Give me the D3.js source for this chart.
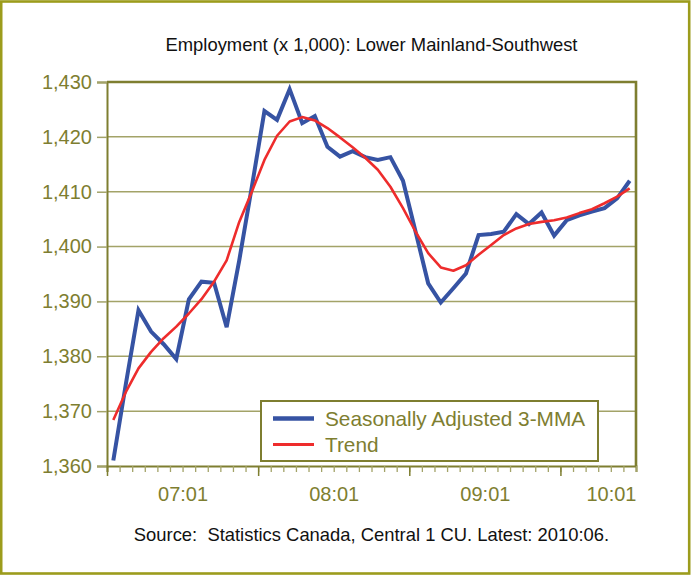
<!DOCTYPE html>
<html>
<head>
<meta charset="utf-8">
<script src="https://cdn.jsdelivr.net/npm/d3@7"></script>
<style>
  body { margin: 0; background: #fff; }
  text { font-family: "Liberation Sans", Arial, sans-serif; }
</style>
</head>
<body>
<div id="display"></div>
<script>
// monthly categories, 2006:07 .. 2009:12
var months = [];
for (var yr = 2006; yr <= 2009; yr++) {
  for (var mo = 1; mo <= 12; mo++) {
    if (yr == 2006 && mo < 7) continue;
    months.push(yr + ":" + (mo < 10 ? "0" + mo : mo));
  }
}

var seasAdj = [1361.0, 1375.0, 1388.4, 1384.5, 1382.2, 1379.5, 1390.4, 1393.6, 1393.4, 1385.3,
  1397.5, 1410.9, 1424.7, 1423.1, 1428.7, 1422.5, 1423.8, 1418.2, 1416.4, 1417.4,
  1416.3, 1415.8, 1416.3, 1412.0, 1402.7, 1393.3, 1389.8, 1392.4, 1395.1, 1402.1,
  1402.3, 1402.7, 1405.9, 1404.1, 1406.2, 1402.0, 1404.8, 1405.7, 1406.4, 1407.0,
  1408.8, 1412.0];

var trend = [1368.4, 1373.5, 1377.8, 1380.8, 1383.3, 1385.4, 1387.8, 1390.4, 1393.6, 1397.5,
  1404.5, 1410.0, 1415.8, 1420.2, 1422.8, 1423.6, 1423.0, 1421.6, 1419.9, 1418.1,
  1416.2, 1414.0, 1410.9, 1407.0, 1402.7, 1398.8, 1396.2, 1395.6, 1396.6, 1398.5,
  1400.3, 1402.1, 1403.3, 1404.1, 1404.5, 1404.8, 1405.3, 1406.1, 1406.8, 1407.9,
  1409.1, 1410.6];

var yTicks = [1360, 1370, 1380, 1390, 1400, 1410, 1420, 1430];
var xLabelMonths = ["2007:01", "2008:01", "2009:01", "2010:01"];
var xLabels = ["07:01", "08:01", "09:01", "10:01"];
var seriesNames = ["Seasonally Adjusted 3-MMA", "Trend"];

var olive = "#7e7e30", grid = "#a3a368", frame = "#9c9c1c";
var blue = "#3653a3", red = "#ee2c2c";

var W = 691, H = 575;
var margin = {top: 82, right: 55, bottom: 109, left: 107},
    width = W - margin.left - margin.right,
    height = H - margin.top - margin.bottom;

var svg = d3.select("#display").append("svg")
  .attr("width", W).attr("height", H);

// outer frame
svg.append("rect")
  .attr("x", 1.2).attr("y", 1.5).attr("width", W - 3).attr("height", H - 3)
  .attr("fill", "#fff").attr("stroke", frame).attr("stroke-width", 2.6);

var g = svg.append("g")
  .attr("transform", "translate(" + margin.left + "," + margin.top + ")");

// category boundaries on a linear scale, points at band centers
var x = d3.scaleLinear().domain([0, months.length]).range([0, width]);
var xc = function(i) { return x(i + 0.5); };
var y = d3.scaleLinear().domain([1360, 1430]).range([height, 0]);

// month position of a "yyyy:mm" string, counted from the first category
function monthIdx(s) {
  var p = s.split(":"), p0 = months[0].split(":");
  return (+p[0] - +p0[0]) * 12 + (+p[1] - +p0[1]);
}

// gridlines
g.append("g").selectAll("line")
  .data(yTicks.filter(function(d) { return d > 1360 && d < 1430; }))
  .enter().append("line")
    .attr("x1", 0).attr("x2", width)
    .attr("y1", function(d) { return y(d); })
    .attr("y2", function(d) { return y(d); })
    .attr("stroke", grid).attr("stroke-width", 1.5);

// plot box top + right
g.append("path")
  .attr("d", "M0,0H" + width + "V" + height)
  .attr("fill", "none").attr("stroke", olive).attr("stroke-width", 2.6);

// y axis
var yAx = g.append("g")
  .call(d3.axisLeft(y).tickValues(yTicks).tickSize(10).tickPadding(5)
    .tickFormat(d3.format(",")));
yAx.select(".domain").attr("stroke", olive).attr("stroke-width", 2);
yAx.selectAll(".tick line").attr("stroke", grid).attr("stroke-width", 1.5);
yAx.selectAll("text").attr("fill", olive).style("font-size", "20px")
  .style("font-family", "'Liberation Sans', Arial, sans-serif");

// x axis: minor ticks every month, major every 12
var xAx = g.append("g").attr("transform", "translate(0," + height + ")")
  .call(d3.axisBottom(x).tickValues(d3.range(months.length + 1)).tickSize(6)
    .tickFormat(""));
xAx.select(".domain").attr("stroke", olive).attr("stroke-width", 2);
xAx.selectAll(".tick line").attr("stroke", grid).attr("stroke-width", 1.3);

var xMaj = g.append("g").attr("transform", "translate(0," + height + ")")
  .call(d3.axisBottom(x).tickValues(d3.range(0, months.length, 12)).tickSize(10)
    .tickFormat(""));
xMaj.select(".domain").remove();
xMaj.selectAll(".tick line").attr("stroke", olive).attr("stroke-width", 1.5);

var xLab = g.append("g").attr("transform", "translate(0," + height + ")")
  .call(d3.axisBottom(x).tickValues(xLabelMonths.map(monthIdx)).tickSize(0)
    .tickPadding(21).tickFormat(function(d, i) { return xLabels[i]; }));
xLab.select(".domain").remove();
xLab.selectAll("text").attr("fill", olive).style("font-size", "20px")
  .style("font-family", "'Liberation Sans', Arial, sans-serif");
// keep the last label inside the plot width
xLab.selectAll(".tick").each(function(d) {
  var t = d3.select(this).select("text"), b = t.node().getBBox();
  var over = x(d) + b.x + b.width - width;
  if (over > 0) t.attr("dx", -over);
});

// lines
var line = function(vals) {
  return d3.line().x(function(d, i) { return xc(i); }).y(function(d) { return y(d); })(vals);
};
g.append("path").attr("d", line(seasAdj))
  .attr("fill", "none").attr("stroke", blue).attr("stroke-width", 4)
  .attr("stroke-linejoin", "miter");
g.append("path").attr("d", line(trend))
  .attr("fill", "none").attr("stroke", red).attr("stroke-width", 2.6)
  .attr("stroke-linejoin", "round");

// legend
var lg = svg.append("g").attr("transform", "translate(261,401)");
lg.append("rect").attr("width", 337).attr("height", 60)
  .attr("fill", "#fff").attr("stroke", olive).attr("stroke-width", 2);
var cols = [blue, red], widths = [4.5, 3];
seriesNames.forEach(function(n, i) {
  var yy = 17.5 + i * 26;
  lg.append("line").attr("x1", 12).attr("x2", 53).attr("y1", yy).attr("y2", yy)
    .attr("stroke", cols[i]).attr("stroke-width", widths[i]);
  lg.append("text").attr("x", 64).attr("y", yy + 7).text(n)
    .attr("fill", olive).style("font-size", "20.8px");
});

// titles
svg.append("text").attr("x", margin.left + width / 2).attr("y", 51)
  .attr("text-anchor", "middle").style("font-size", "18.4px").attr("fill", "#111")
  .text("Employment (x 1,000): Lower Mainland-Southwest");
svg.append("text").attr("x", margin.left + width / 2).attr("y", 541)
  .attr("text-anchor", "middle").style("font-size", "18.4px").attr("fill", "#111")
  .style("white-space", "pre")
  .text("Source:  Statistics Canada, Central 1 CU. Latest: 2010:06.");
</script>
</body>
</html>
